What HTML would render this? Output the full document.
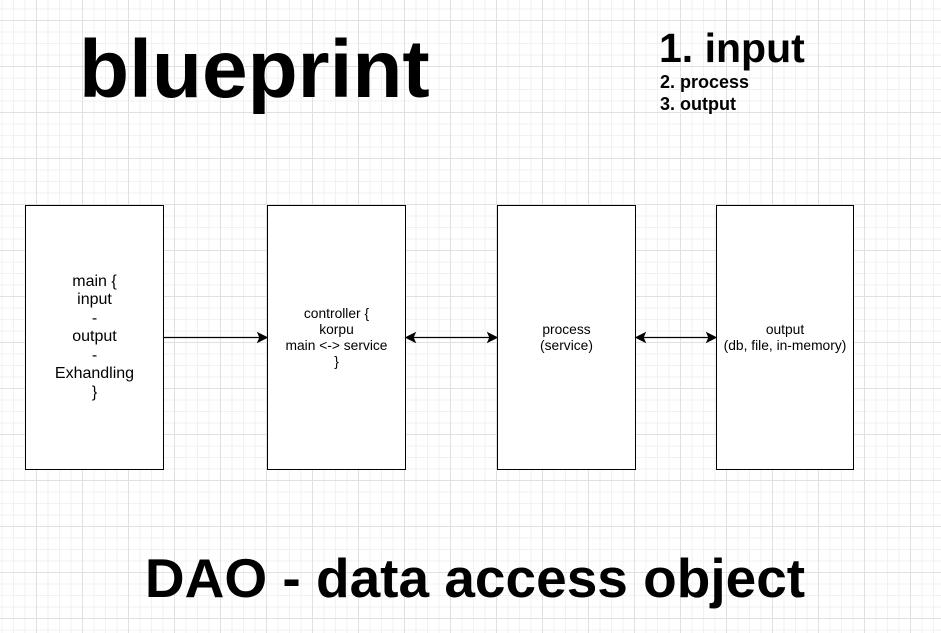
<!DOCTYPE html>
<html><head><style>
html,body{margin:0;padding:0;}
body{width:941px;height:633px;position:relative;overflow:hidden;background:#fff;
background-image:
linear-gradient(to right,#e0e0e0 1px,transparent 1px),
linear-gradient(to bottom,#e0e0e0 1px,transparent 1px),
linear-gradient(to right,#f1f1f1 1px,transparent 1px),
linear-gradient(to bottom,#f1f1f1 1px,transparent 1px);
background-size:46px 46px,46px 46px,11.5px 11.5px,11.5px 11.5px;
background-position:36px 20px,36px 20px,36px 20px,36px 20px;
font-family:"Liberation Sans",Arial,sans-serif;}
.t{position:absolute;font-weight:bold;white-space:nowrap;color:#000;}
.b{position:absolute;border:1px solid #000;background:#fff;box-sizing:border-box;display:flex;align-items:center;justify-content:center;text-align:center;}
</style></head><body>
<div class="t" style="left:79px;top:25px;font-size:82px;line-height:90px;">blueprint</div>
<div class="t" style="left:659px;top:24px;font-size:41px;line-height:48px;">1. input</div>
<div class="t" style="left:660px;top:71px;font-size:18px;line-height:22px;">2. process<br>3. output</div>
<div class="t" style="left:0;width:950px;text-align:center;top:548px;font-size:55px;line-height:60px;">DAO - data access object</div>
<div class="b" style="left:25px;top:205px;width:139px;height:265px;font-size:16px;line-height:18.5px;">main {<br>input<br>-<br>output<br>-<br>Exhandling<br>}</div>
<div class="b" style="left:267px;top:205px;width:139px;height:265px;font-size:13.8px;line-height:16px;">controller {<br>korpu<br>main &lt;-&gt; service<br>}</div>
<div class="b" style="left:497px;top:205px;width:139px;height:265px;font-size:13.8px;line-height:16px;">process<br>(service)</div>
<div class="b" style="left:716px;top:205px;width:138px;height:265px;font-size:13.8px;line-height:16px;">output<br>(db, file, in-memory)</div>
<svg style="position:absolute;left:0;top:0" width="941" height="633">
<g stroke="#000" stroke-width="1.2" fill="#000">
<line x1="164" y1="337.5" x2="262" y2="337.5"/>
<path d="M267 337.5 L258 333 L260 337.5 L258 342 Z"/>
<line x1="410" y1="337.5" x2="492" y2="337.5"/>
<path d="M497 337.5 L488 333 L490 337.5 L488 342 Z"/>
<path d="M406 337.5 L415 333 L413 337.5 L415 342 Z"/>
<line x1="641" y1="337.5" x2="711" y2="337.5"/>
<path d="M716 337.5 L707 333 L709 337.5 L707 342 Z"/>
<path d="M636 337.5 L645 333 L643 337.5 L645 342 Z"/>
</g></svg>
</body></html>
